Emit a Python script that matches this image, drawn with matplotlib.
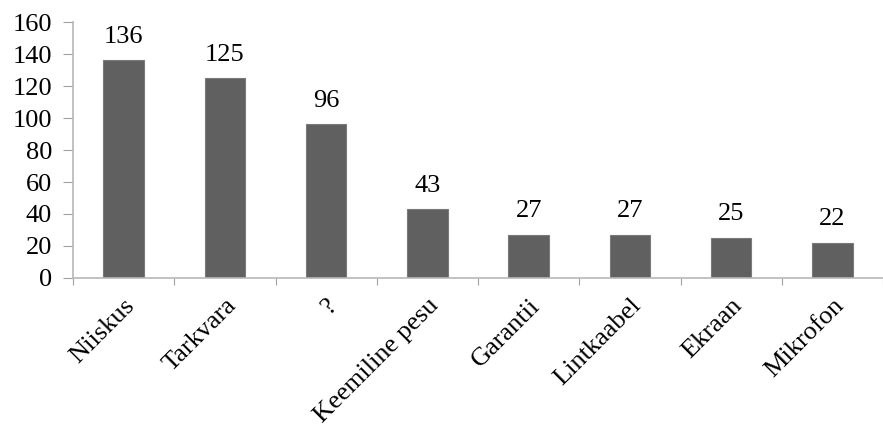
import matplotlib.pyplot as plt

plt.rcParams["font.family"] = ["Liberation Serif", "DejaVu Serif"]

categories = ["Niiskus", "Tarkvara", "?", "Keemiline pesu", "Garantii",
              "Lintkaabel", "Ekraan", "Mikrofon"]
counts = [136, 125, 96, 43, 27, 27, 25, 22]

fig = plt.figure(figsize=(8.83, 4.28), dpi=100)
ax = fig.add_axes([0.0827, 0.3505, 1 - 0.0827, 0.598])

x = range(len(categories))
bars = ax.bar(x, counts, width=0.40, color="#606060", edgecolor="#7a7a7a", linewidth=0.8, zorder=2)

for xi, v in zip(x, counts):
    ax.annotate(str(v), (xi, v), xytext=(0, 9), textcoords="offset points",
                ha="center", va="bottom", fontsize=19)

ax.set_ylim(0, 160)
ax.set_yticks(range(0, 161, 20))
ax.set_xlim(-0.5, 7.42)

# category ticks sit between the bars
ax.set_xticks([i - 0.5 for i in range(len(categories) + 1)])
ax.set_xticklabels([])
ax.set_xticks(list(x), minor=True)
ax.set_xticklabels(categories, minor=True, rotation=45, ha="right", va="top",
                   rotation_mode="anchor", fontsize=19)
ax.tick_params(axis="x", which="minor", length=0, pad=12)
ax.tick_params(axis="x", which="major", length=5, color="#a0a0a0", direction="out")
ax.tick_params(axis="y", length=7, color="#a0a0a0", labelsize=19, pad=8)

for side in ["top", "right"]:
    ax.spines[side].set_visible(False)
for side in ["left", "bottom"]:
    ax.spines[side].set_color("#b8b8b8")
    ax.spines[side].set_linewidth(1.2)

plt.savefig("out.png", dpi=100)
